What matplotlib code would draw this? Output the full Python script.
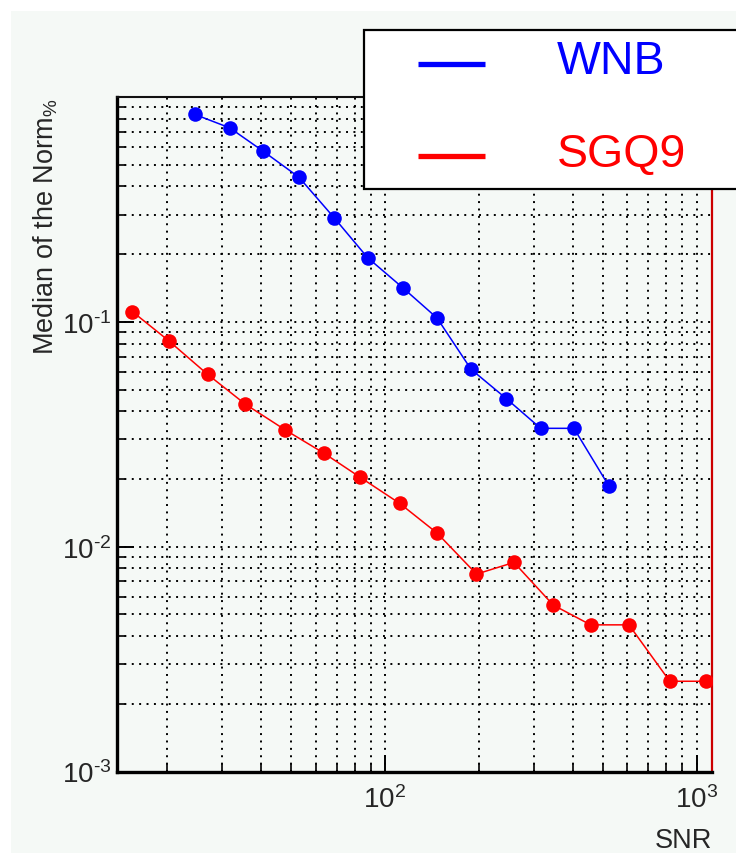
import matplotlib
matplotlib.use("Agg")
import matplotlib.pyplot as plt
from matplotlib.patches import Rectangle
from matplotlib.lines import Line2D
from matplotlib.ticker import LogLocator, NullFormatter, FixedLocator

plt.rcParams['font.family'] = ['Liberation Sans', 'DejaVu Sans']
plt.rcParams['mathtext.fontset'] = 'custom'
plt.rcParams['mathtext.rm'] = 'Liberation Sans'
plt.rcParams['mathtext.it'] = 'Liberation Sans:italic'
plt.rcParams['mathtext.bf'] = 'Liberation Sans:bold'

# ---- data ----
wnb_snr = [24.6, 31.8, 40.7, 53.0, 68.8, 88.0, 114, 147, 189, 245, 316, 404, 523]
wnb_norm = [0.836, 0.729, 0.574, 0.440, 0.290, 0.193, 0.142, 0.104, 0.0615,
            0.0456, 0.0336, 0.0336, 0.0186]

sgq9_snr = [15.5, 20.3, 27.0, 35.7, 48.0, 63.9, 83.1, 111.7, 147.2, 196.7,
            259.4, 346.6, 457, 606.5, 820, 1071]
sgq9_norm = [0.111, 0.0822, 0.0584, 0.0430, 0.0330, 0.0260, 0.0204, 0.01556,
             0.01148, 0.00755, 0.00851, 0.00550, 0.00449, 0.00449, 0.00252, 0.00252]

series_names = ["WNB", "SGQ9"]
series_colors = ["#0000ff", "#ff0000"]

x_major = [100, 1000]
x_major_labels = [r"$10^{2}$", r"$10^{3}$"]
y_major = [1e-3, 1e-2, 1e-1]
y_major_labels = [r"$10^{\text{-}3}$", r"$10^{\text{-}2}$", r"$10^{\text{-}1}$"]

W, H = 736, 854
bg = "#f5f9f6"

fig = plt.figure(figsize=(W / 100, H / 100), dpi=100, facecolor="white")
fig.add_artist(Rectangle((11 / W, 0), 1, 1 - 12 / H, transform=fig.transFigure,
                         facecolor=bg, edgecolor="none", zorder=-10))

L, R, T, B = 116.7, 712, 98, 772.5
ax = fig.add_axes([L / W, 1 - B / H, (R - L) / W, (B - T) / H])
ax.set_facecolor(bg)
ax.set_xscale("log")
ax.set_yscale("log")
ax.set_xlim(13.8, 1120)
ax.set_ylim(1e-3, 1.0)

ax.set_axisbelow(True)
for xs, ys, c in [(wnb_snr, wnb_norm, series_colors[0]), (sgq9_snr, sgq9_norm, series_colors[1])]:
    ax.plot(xs, ys, color=c, lw=1.1, marker="o", markersize=10.5,
            markeredgewidth=0, zorder=3)

ax.xaxis.set_major_locator(FixedLocator(x_major))
ax.set_xticklabels(x_major_labels)
ax.xaxis.set_minor_locator(LogLocator(base=10, subs=range(2, 10)))
ax.xaxis.set_minor_formatter(NullFormatter())
ax.yaxis.set_major_locator(FixedLocator(y_major))
ax.set_yticklabels(y_major_labels)
ax.yaxis.set_minor_locator(LogLocator(base=10, subs=range(2, 10)))
ax.yaxis.set_minor_formatter(NullFormatter())

ax.grid(True, which="both", color="black", linestyle=(0, (1, 2.8)), linewidth=1.4)

ax.tick_params(which="major", direction="in", length=12, width=1.4,
               labelsize=20, labelcolor="#262626", color="black")
ax.tick_params(which="minor", direction="in", length=5.5, width=1.2, color="black")
ax.tick_params(axis="x", which="major", pad=10)
ax.tick_params(axis="y", which="major", pad=4)
ax.tick_params(top=False, right=False, which="both")

for s in ["left", "bottom"]:
    ax.spines[s].set_linewidth(2.4)
    ax.spines[s].set_color("black")
ax.spines["top"].set_linewidth(1.5)
ax.spines["top"].set_color("#111111")
ax.spines["right"].set_linewidth(1.6)
ax.spines["right"].set_color("#cc0000")

ax.set_xlabel("SNR", fontsize=19.5, color="#262626", ha="right", va="center")
ax.xaxis.set_label_coords(1.0, -(841 - B) / (B - T))
ax.set_ylabel(r"Median of the Norm$_{\%}$", fontsize=19.5, color="#262626",
              ha="right", va="center")
ax.yaxis.set_label_coords((46 - L) / (R - L), 1.0)

# ---- legend box ----
fig.add_artist(Rectangle((364 / W, 1 - 190 / H), 400 / W, 159 / H,
                         transform=fig.transFigure, facecolor="white",
                         edgecolor="black", linewidth=1.6, zorder=10))
rows_y = [62, 155]
line_y = [65, 157]
for name, c, ty, ly in zip(series_names, series_colors, rows_y, line_y):
    fig.add_artist(Line2D([418 / W, 485 / W], [1 - ly / H, 1 - ly / H],
                          transform=fig.transFigure, color=c, lw=3.8,
                          solid_capstyle="butt", zorder=11))
    fig.text(557 / W, 1 - ty / H, name, color=c, fontsize=33.5,
             ha="left", va="center", zorder=12)

fig.savefig("out.png", dpi=100, facecolor="white")
